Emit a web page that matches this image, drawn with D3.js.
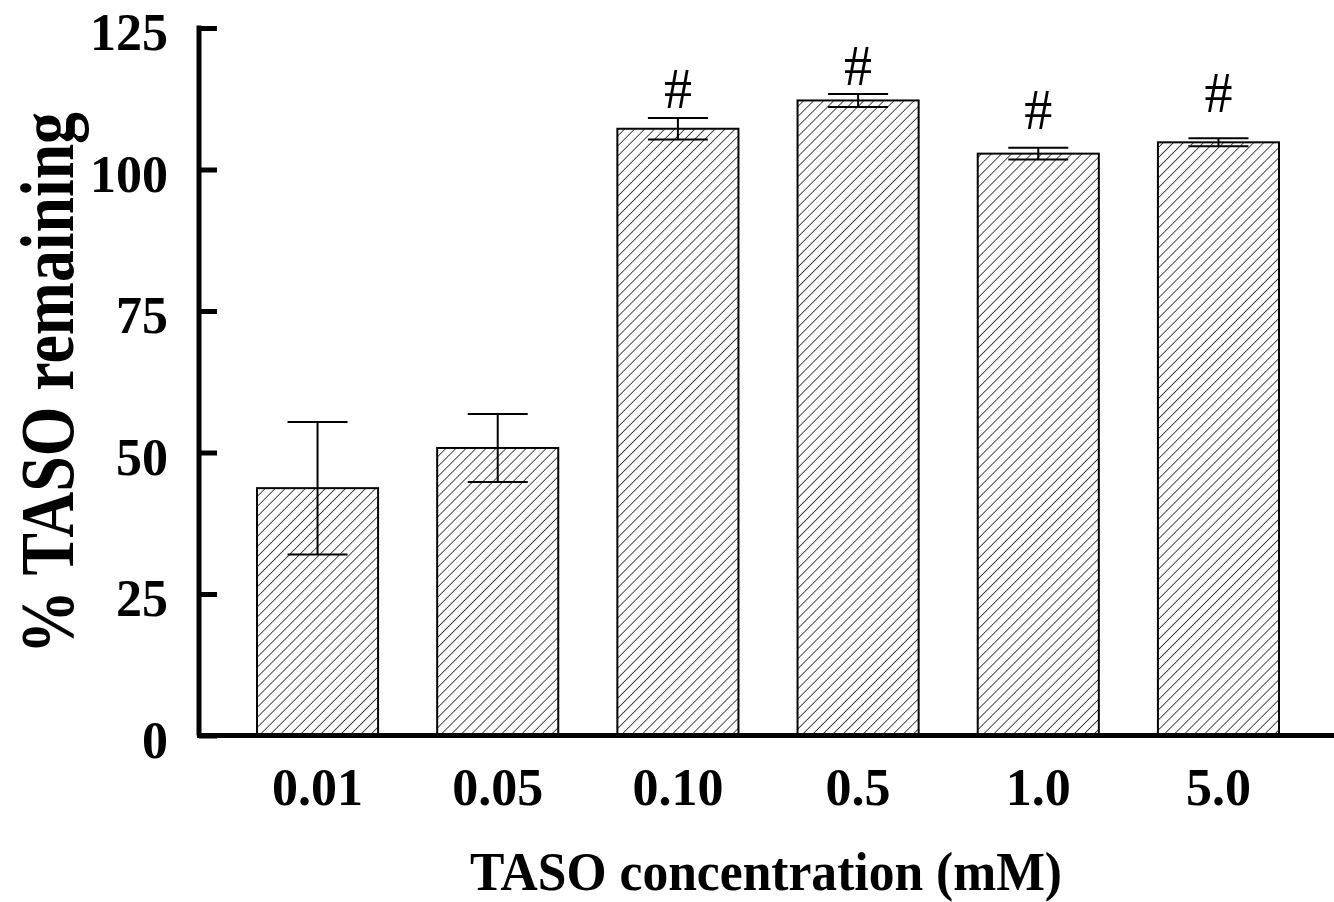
<!DOCTYPE html>
<html lang="en">
  <head>
    <title>TASO remaining</title>
    <script src="https://d3js.org/d3.v7.min.js"></script>
    <style>
      body {
        margin: 0;
        background: #fff;
      }
      text {
        font-family: "Liberation Serif", "Times New Roman", serif;
      }
    </style>
  </head>
  <body>
    <script>
      // values
      const concentrations = ['0.01', '0.05', '0.10', '0.5', '1.0', '5.0'];
      const means = [43.7, 50.8, 107.2, 112.2, 102.8, 104.8];
      const errors = [11.7, 6.0, 1.9, 1.15, 1.05, 0.7];
      const marks = ['', '', '#', '#', '#', '#'];
      const markLevels = [0, 0, 110.9, 114.9, 107.1, 110.1];
      const yTicks = [0, 25, 50, 75, 100, 125];

      const w = 1334;
      const h = 902;

      const xScale = d3.scaleBand()
                       .domain(concentrations)
                       .range([197, 1339])
                       .paddingInner(0.328)
                       .paddingOuter(0.333);

      const yScale = d3.scaleLinear()
                       .domain([0, 125])
                       .range([735.5, 28]);

      const svg = d3.select('body')
                    .append('svg')
                    .attr('width', w)
                    .attr('height', h);

      const gap = 7.1;
      const hatch = svg.append('defs')
                       .append('pattern')
                        .attr('id', 'hatch')
                        .attr('patternUnits', 'userSpaceOnUse')
                        .attr('width', gap)
                        .attr('height', gap)
                        .attr('patternTransform', 'rotate(45)');
      hatch.append('rect')
           .attr('width', gap)
           .attr('height', gap)
           .attr('fill', '#fff');
      hatch.append('line')
           .attr('x1', 0).attr('y1', 0)
           .attr('x2', 0).attr('y2', gap)
           .attr('stroke', '#000')
           .attr('stroke-width', 1.4);

      // bars
      svg.selectAll('.bar')
         .data(concentrations)
         .enter()
         .append('rect')
          .attr('class', 'bar')
          .attr('x', d => xScale(d))
          .attr('y', (d, i) => yScale(means[i]))
          .attr('width', xScale.bandwidth())
          .attr('height', (d, i) => yScale(0) - yScale(means[i]))
          .attr('fill', 'url(#hatch)')
          .attr('stroke', '#000')
          .attr('stroke-width', 2);

      // error bars
      const capHalf = 30;
      const cx = d => xScale(d) + xScale.bandwidth() / 2;
      const err = svg.selectAll('.err')
                     .data(concentrations)
                     .enter()
                     .append('g')
                      .attr('class', 'err')
                      .attr('stroke', '#000')
                      .attr('stroke-width', 2);
      err.append('line')
         .attr('x1', cx)
         .attr('x2', cx)
         .attr('y1', (d, i) => yScale(means[i] + errors[i]))
         .attr('y2', (d, i) => yScale(means[i] - errors[i]));
      err.append('line')
         .attr('x1', d => cx(d) - capHalf)
         .attr('x2', d => cx(d) + capHalf)
         .attr('y1', (d, i) => yScale(means[i] + errors[i]))
         .attr('y2', (d, i) => yScale(means[i] + errors[i]));
      err.append('line')
         .attr('x1', d => cx(d) - capHalf)
         .attr('x2', d => cx(d) + capHalf)
         .attr('y1', (d, i) => yScale(means[i] - errors[i]))
         .attr('y2', (d, i) => yScale(means[i] - errors[i]));

      // significance marks
      svg.selectAll('.mark')
         .data(concentrations)
         .enter()
         .append('text')
          .attr('class', 'mark')
          .attr('x', cx)
          .attr('y', (d, i) => yScale(markLevels[i]))
          .attr('text-anchor', 'middle')
          .attr('font-size', 56)
          .text((d, i) => marks[i]);

      // axes
      const xAxis = d3.axisBottom(xScale).tickSize(0).tickPadding(0);
      const yAxis = d3.axisRight(yScale).tickValues(yTicks).tickSize(18);

      const gx = svg.append('g')
                    .attr('id', 'x-axis')
                    .attr('transform', `translate(0, ${yScale(0)})`)
                    .call(xAxis);
      gx.select('.domain').attr('stroke-width', 5).attr('d', 'M197,0H1334');
      gx.selectAll('.tick text')
        .attr('y', 69)
        .attr('dy', 0)
        .attr('font-size', 52)
        .attr('font-weight', 'bold')
        .attr('font-family', '"Liberation Serif", "Times New Roman", serif')
        .attr('fill', '#000');

      const gy = svg.append('g')
                    .attr('id', 'y-axis')
                    .attr('transform', 'translate(199, 0)')
                    .call(yAxis);
      gy.select('.domain').attr('stroke-width', 5)
        .attr('d', `M0,${yScale(125) - 2.5}V${yScale(0)}`);
      gy.selectAll('.tick line').attr('stroke-width', 5);
      gy.selectAll('.tick text')
        .attr('x', -31)
        .attr('dy', '0.42em')
        .attr('text-anchor', 'end')
        .attr('font-size', 52)
        .attr('font-weight', 'bold')
        .attr('font-family', '"Liberation Serif", "Times New Roman", serif')
        .attr('fill', '#000');

      // titles
      svg.append('text')
         .attr('x', 766)
         .attr('y', 890)
         .attr('text-anchor', 'middle')
         .attr('font-size', 55)
         .attr('font-weight', 'bold')
         .attr('textLength', 592)
         .attr('lengthAdjust', 'spacingAndGlyphs')
         .text('TASO concentration (mM)');

      svg.append('text')
         .attr('transform', 'translate(73, 383) rotate(-90)')
         .attr('text-anchor', 'middle')
         .attr('font-size', 76)
         .attr('font-weight', 'bold')
         .attr('textLength', 542)
         .attr('lengthAdjust', 'spacingAndGlyphs')
         .text('% TASO remaining');
    </script>
  </body>
</html>
